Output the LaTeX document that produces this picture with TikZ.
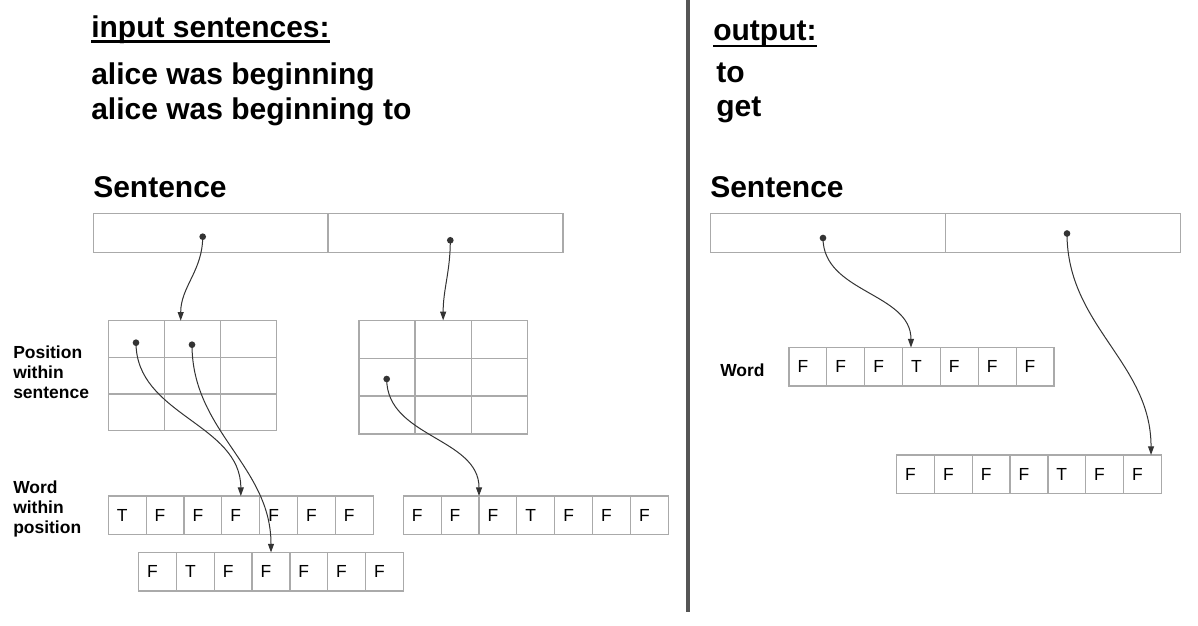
\documentclass[tikz,border=0pt]{standalone}
\usepackage{fontspec}
\setmainfont{Liberation Sans}
\usepackage{tikz}
\usepackage{xcolor}
\usetikzlibrary{arrows.meta,calc}

\definecolor{boxgray}{RGB}{170,170,170}
\definecolor{linkgray}{RGB}{51,51,51}
\definecolor{divgray}{RGB}{85,85,85}

\begin{document}
\begin{tikzpicture}[x=0.75pt,y=0.75pt,yscale=-1,xscale=1,
  bigtext/.style={anchor=base west,inner sep=0pt,font=\bfseries\fontsize{22.5}{26}\selectfont},
  sidetext/.style={anchor=base west,inner sep=0pt,align=left,font=\bfseries\fontsize{13.1}{15}\selectfont},
  gridcell/.style={draw=boxgray,line width=0.9pt,inner sep=0pt,outer sep=0pt},
  cell/.style={gridcell,minimum width=28.4pt,minimum height=28.9pt,text width=15.6pt,inner xsep=6.4pt,align=left,font=\fontsize{13.1}{15}\selectfont},
  link/.style={color=linkgray,line width=0.75pt,-{Triangle[length=6.5pt,width=4.5pt]}},
  ulline/.style={line width=2.2pt}]
\path[use as bounding box] (0,0) rectangle (1198,625);

%Straight Lines
\draw [color=divgray,line width=2.3pt] (688,0) -- (688,612) ;

% Text Node
\node[bigtext] (hin) at (91,37) {input sentences:};
\draw[ulline] ($(hin.base west)+(0,4.6)$) -- ($(hin.base east)+(0,4.6)$);
\node[bigtext] (sa) at (91,84) {alice was beginning};
\node[bigtext] (sb) at (91,119) {alice was beginning to};
\node[bigtext] (tl) at (93,197) {Sentence};
% Text Node
\node[bigtext] (hout) at (713,40) {output:};
\draw[ulline] ($(hout.base west)+(0,6)$) -- ($(hout.base east)+(0,6)$);
\node[bigtext] (out-to) at (716,82) {to};
\node[bigtext] (out-get) at (716,116) {get};
\node[bigtext] (tr) at (710,197) {Sentence};
% Text Node
\node[sidetext] (lpos) at (13,398.3) {Position\\within\\sentence};
\node[sidetext] (lword) at (13,533.3) {Word\\within\\position};
\node[sidetext] (rword) at (720,376) {Word};

%Shape: Rectangle
\node[gridcell,minimum width=176.25pt,minimum height=29.5pt] (sl-1) at (210.8,233) {};
\node[gridcell,minimum width=176.25pt,minimum height=29.5pt] (sl-2) at (445.5,233) {};
\node[gridcell,minimum width=176.25pt,minimum height=29.5pt] (sr-1) at (828.2,233) {};
\node[gridcell,minimum width=176.25pt,minimum height=29.5pt] (sr-2) at (1063.2,233) {};

%Shape: Grid
\foreach \r in {1,2,3}
  \foreach \c in {1,2,3} {
    \node[gridcell,minimum width=42pt,minimum height=27.5pt] (ga-\r-\c) at ({108.3+56*(\c-0.5)},{320.7+36.67*(\r-0.5)}) {};
    \node[gridcell,minimum width=42.1pt,minimum height=28.4pt] (gb-\r-\c) at ({359+56.1*(\c-0.5)},{320.3+37.9*(\r-0.5)}) {};
  }

%Shape: Rectangle
\foreach \t [count=\i] in {T,F,F,F,F,F,F}
  \node[cell] (wa-\i) at ({108.3+37.86*(\i-0.5)},515.3) {\t};
\foreach \t [count=\i] in {F,T,F,F,F,F,F}
  \node[cell] (wb-\i) at ({138.7+37.8*(\i-0.5)},571.7) {\t};
\foreach \t [count=\i] in {F,F,F,T,F,F,F}
  \node[cell] (wc-\i) at ({403.3+37.86*(\i-0.5)},515.3) {\t};
\foreach \t [count=\i] in {F,F,F,T,F,F,F}
  \node[cell] (oa-\i) at ({789+37.86*(\i-0.5)},366.8) {\t};
\foreach \t [count=\i] in {F,F,F,F,T,F,F}
  \node[cell] (ob-\i) at ({896.7+37.8*(\i-0.5)},474.2) {\t};

% dots
\coordinate (ds-1) at (202.7,236.7);
\coordinate (ds-2) at (450.3,240.3);
\coordinate (dp-1) at (136,342.7);
\coordinate (dp-2) at (192,344.7);
\coordinate (dp-3) at (386.7,379);
\coordinate (dr-1) at (823,238);
\coordinate (dr-2) at (1067,233.5);

%Curve Lines
\draw[link] (ds-1) to[out=90,in=-90] ($(ga-1-2.north west)+(16.4,0)$);
\draw[link] (ds-2) to[out=90,in=-90] (gb-1-2.north);
\draw[link] (dp-1) to[out=90,in=-90] (wa-4.north);
\draw[link] (dp-2) to[out=90,in=-90] (wb-4.north);
\draw[link] (dp-3) to[out=90,in=-90] (wc-3.north west);
\draw[link] (dr-1) to[out=90,in=-90] ($(oa-4.north west)+(8.4,0)$);
\draw[link] (dr-2) to[out=90,in=-90] ($(ob-7.north east)+(-10.3,0)$);

%Shape: Circle
\foreach \d in {ds-1,ds-2,dp-1,dp-2,dp-3,dr-1,dr-2}
  \fill[linkgray] (\d) circle (2.5pt);

\end{tikzpicture}
\end{document}
